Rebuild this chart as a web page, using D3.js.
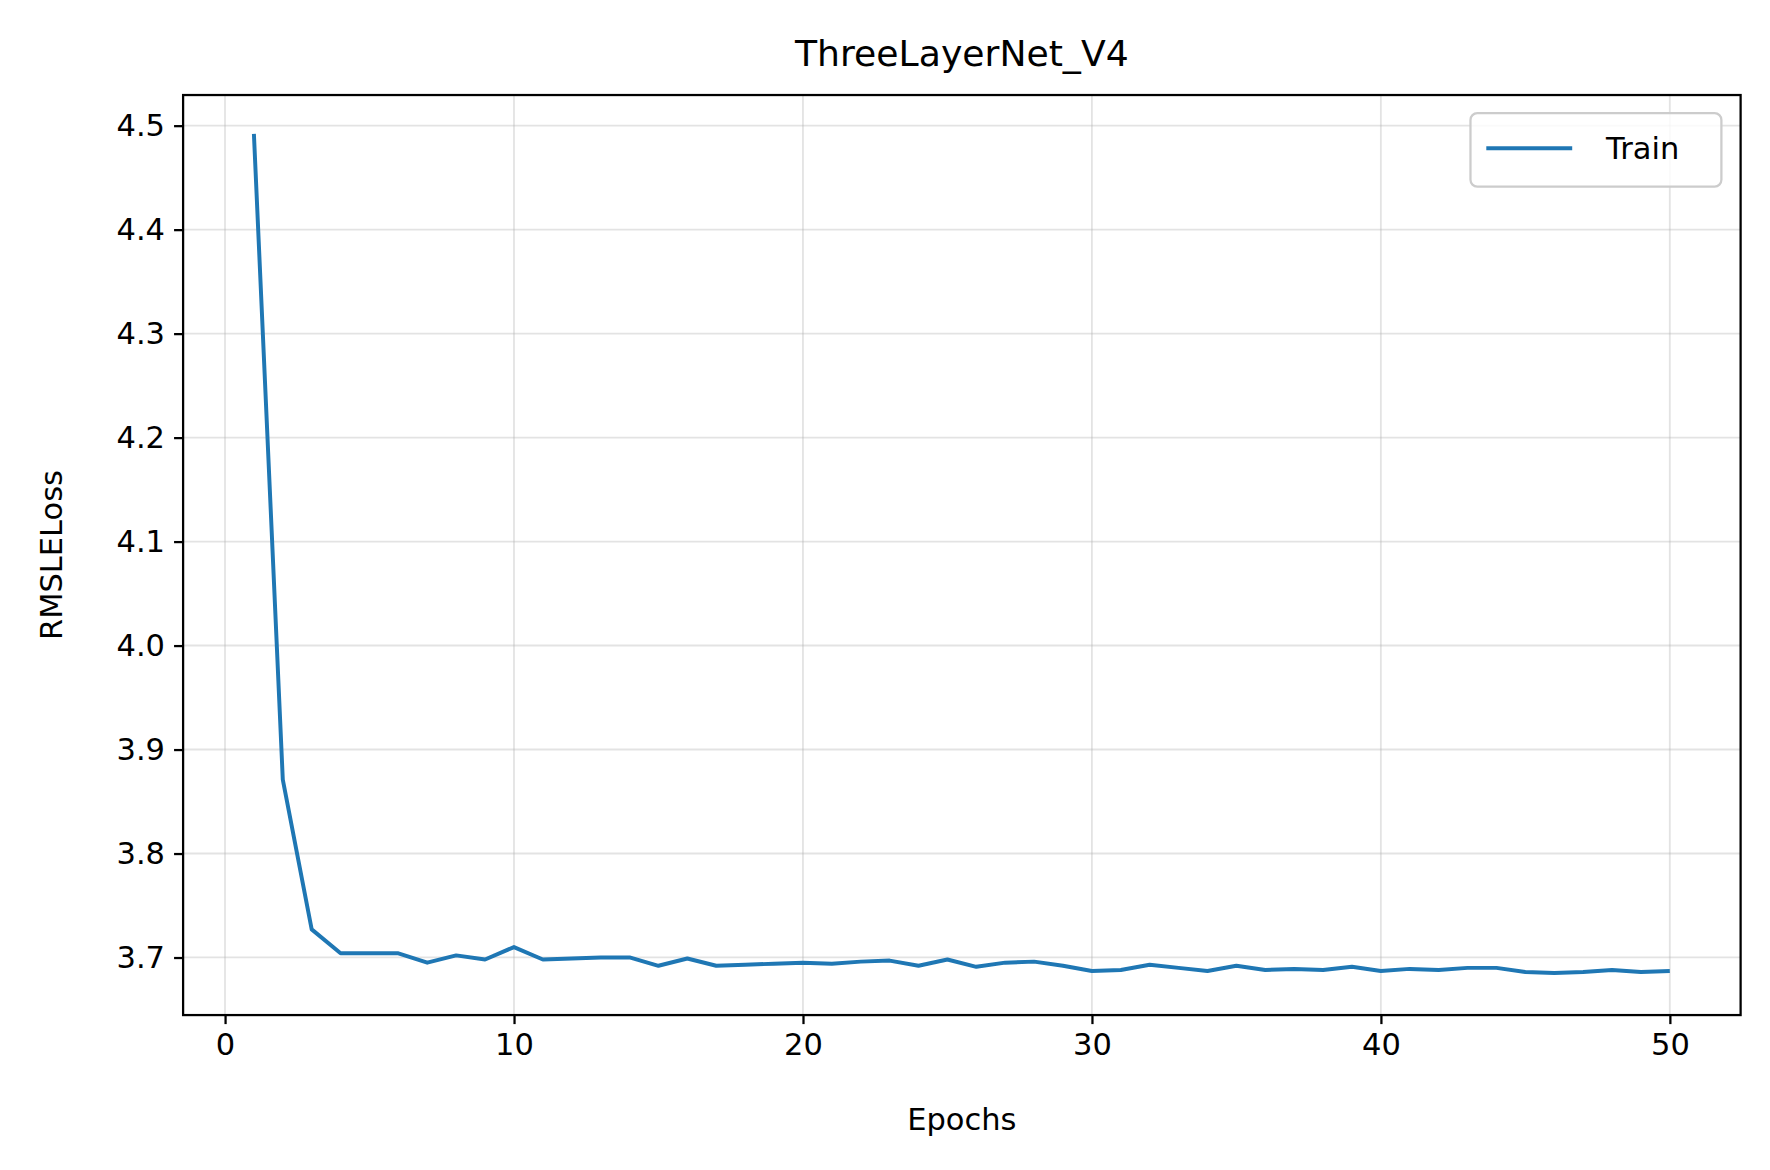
<!DOCTYPE html>
<html>
<head>
<meta charset="utf-8">
<script src="https://cdn.jsdelivr.net/npm/d3@7"></script>
<style>
  body { margin: 0; background: #fff; }
  svg { display: block; }
  text { font-family: "DejaVu Sans", sans-serif; fill: #000; }
</style>
</head>
<body>
<div id="chart"></div>
<script>
// training loss per epoch
const epochs = d3.range(1, 51);
const trainLoss = [
  4.492, 3.871, 3.727, 3.704, 3.704, 3.704, 3.695, 3.702, 3.698, 3.710,
  3.698, 3.699, 3.700, 3.700, 3.692, 3.699, 3.692, 3.693, 3.694, 3.695,
  3.694, 3.696, 3.697, 3.692, 3.698, 3.691, 3.695, 3.696, 3.692, 3.687,
  3.688, 3.693, 3.690, 3.687, 3.692, 3.688, 3.689, 3.688, 3.691, 3.687,
  3.689, 3.688, 3.690, 3.690, 3.686, 3.685, 3.686, 3.688, 3.686, 3.687
];
const xTicks = [0, 10, 20, 30, 40, 50];
const yTicks = [3.7, 3.8, 3.9, 4.0, 4.1, 4.2, 4.3, 4.4, 4.5];

// layout worked out in a 1566x1035 frame, scaled up to the window by viewBox
const W = 1566, H = 1035;
const m = { left: 162, right: W - 1540, top: 84, bottom: H - 898 };

const svg = d3.select('#chart').append('svg')
    .attr('width', 1770)
    .attr('height', 1170)
    .attr('viewBox', `0 0 ${W} ${H}`);

const x = d3.scaleLinear().domain([-1.45, 52.45]).range([m.left, W - m.right]);
const y = d3.scaleLinear().domain([3.6446, 4.5294]).range([H - m.bottom, m.top]);

// grid
svg.append('g').selectAll('line').data(xTicks).join('line')
    .attr('x1', d => x(d)).attr('x2', d => x(d))
    .attr('y1', m.top).attr('y2', H - m.bottom)
    .style('stroke', '#b0b0b0').style('stroke-opacity', 0.35).style('stroke-width', 1.6);
svg.append('g').selectAll('line').data(yTicks).join('line')
    .attr('x1', m.left).attr('x2', W - m.right)
    .attr('y1', d => y(d)).attr('y2', d => y(d))
    .style('stroke', '#b0b0b0').style('stroke-opacity', 0.35).style('stroke-width', 1.6);

// axes
const xAxis = svg.append('g')
    .attr('transform', `translate(0,${H - m.bottom})`)
    .call(d3.axisBottom(x).tickValues(xTicks).tickSize(8).tickPadding(8));
const yAxis = svg.append('g')
    .attr('transform', `translate(${m.left},0)`)
    .call(d3.axisLeft(y).tickValues(yTicks).tickFormat(d3.format('.1f')).tickSize(8).tickPadding(8));
[xAxis, yAxis].forEach(a => {
  a.select('.domain').remove();
  a.selectAll('line').style('stroke', '#000').style('stroke-width', 2);
  a.selectAll('text').style('font-size', '27px').style('font-family', '"DejaVu Sans", sans-serif');
});

// line
svg.append('path')
    .datum(trainLoss)
    .attr('d', d3.line().x((d, i) => x(epochs[i])).y(d => y(d)))
    .style('fill', 'none')
    .style('stroke', '#1f77b4')
    .style('stroke-width', 3.5)
    .style('stroke-linejoin', 'round');

// frame
svg.append('rect')
    .attr('x', m.left).attr('y', m.top)
    .attr('width', W - m.left - m.right).attr('height', H - m.top - m.bottom)
    .style('fill', 'none').style('stroke', '#000').style('stroke-width', 2);

// labels
svg.append('text').attr('x', (m.left + W - m.right) / 2).attr('y', 58)
    .attr('text-anchor', 'middle').style('font-size', '32px').text('ThreeLayerNet_V4');
svg.append('text').attr('x', (m.left + W - m.right) / 2).attr('y', 1000)
    .attr('text-anchor', 'middle').style('font-size', '27px').text('Epochs');
svg.append('text').attr('transform', `translate(55,${(m.top + H - m.bottom) / 2}) rotate(-90)`)
    .attr('text-anchor', 'middle').style('font-size', '27px').text('RMSLELoss');

// legend
const lg = svg.append('g');
lg.append('rect').attr('x', 1301).attr('y', 100).attr('width', 222).attr('height', 65)
    .attr('rx', 6).style('fill', '#fff').style('fill-opacity', 0.8)
    .style('stroke', '#ccc').style('stroke-width', 2);
lg.append('line').attr('x1', 1315).attr('x2', 1391).attr('y1', 131).attr('y2', 131)
    .style('stroke', '#1f77b4').style('stroke-width', 3.5);
lg.append('text').attr('x', 1421).attr('y', 141).style('font-size', '27px').text('Train');
</script>
</body>
</html>
